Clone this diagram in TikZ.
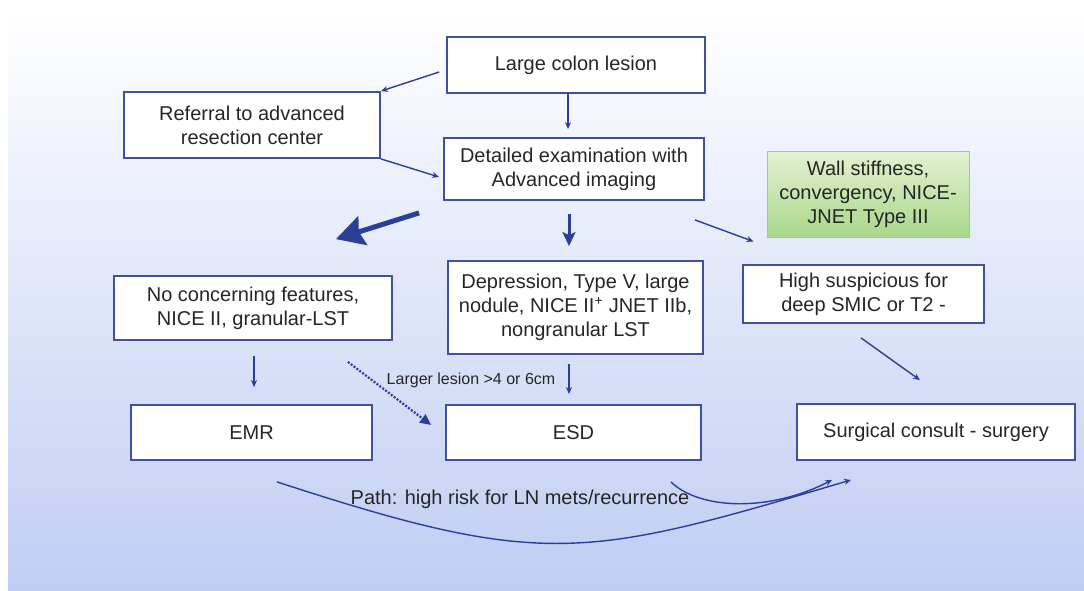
\documentclass[tikz,border=0pt]{standalone}
\usepackage{fontspec}
\setmainfont{Liberation Sans}
\usetikzlibrary{arrows.meta,calc}
\definecolor{boxline}{HTML}{3F519E}
\definecolor{arr}{HTML}{2C3F96}
\definecolor{txt}{HTML}{262626}
\definecolor{bgmid}{HTML}{D9E1F8}
\definecolor{bgblue}{HTML}{C0CDF3}
\definecolor{gtop}{HTML}{E4F2D2}
\definecolor{gbot}{HTML}{A9D78A}
\definecolor{gline}{HTML}{A3C888}
\begin{document}
\begin{tikzpicture}[x=1pt,y=-1pt,
  box/.style={draw=boxline, line width=1.8pt, fill=white, text=txt, align=center,
    inner sep=0pt, font=\fontsize{20}{24}\selectfont},
  thinarrow/.style={draw=arr, line width=1.4pt, -{Stealth[length=7pt,width=6pt]}},
  midarrow/.style={draw=arr, line width=3pt, -{Stealth[length=14pt,width=13pt,inset=3pt]}},
  bigarrow/.style={draw=arr, line width=5pt, -{Stealth[length=28pt,width=30pt,inset=4pt]}},
  dotarrow/.style={draw=arr, line width=2.2pt, dash pattern=on 2pt off 1.6pt, -{Triangle[length=11pt,width=10pt]}},
  lbl/.style={text=txt, inner sep=0pt}
]
\useasboundingbox (0,0) rectangle (1084,590);
\fill[white] (0,0) rectangle (1084,590);
\shade[top color=white, middle color=bgmid, bottom color=bgblue] (8,10) rectangle (1084,590);

% nodes
\node[box, minimum width=258pt, minimum height=56pt] (lcl) at (576,65) {Large colon lesion};
\node[box, minimum width=256pt, minimum height=66pt] (ref) at (252,125) {Referral to advanced\\resection center};
\node[box, minimum width=260pt, minimum height=62pt] (det) at (574,169) {Detailed examination with\\Advanced imaging};
\node[box, draw=gline, line width=1pt, top color=gtop, bottom color=gbot, minimum width=202pt, minimum height=86pt] (grn) at (868,194) {Wall stiffness,\\convergency, NICE-\\JNET Type III};
\node[box, minimum width=278pt, minimum height=64pt] (noc) at (253,308) {No concerning features,\\NICE II, granular-LST};
\node[box, minimum width=255pt, minimum height=93pt] (dep) at (575.5,307.5) {Depression, Type V, large\\nodule, NICE II\textsuperscript{+} JNET IIb,\\nongranular LST};
\node[box, minimum width=241pt, minimum height=58pt] (hs) at (863.5,294) {High suspicious for\\deep SMIC or T2 -};
\node[box, minimum width=241pt, minimum height=55pt] (emr) at (251.5,432.5) {EMR};
\node[box, minimum width=255pt, minimum height=55pt] (esd) at (573.5,432.5) {ESD};
\node[box, minimum width=278pt, minimum height=56pt] (surg) at (936,432) {Surgical consult - surgery};

\node[lbl, font=\fontsize{16}{19}\selectfont] (larger) at (471,380) {Larger lesion >4 or 6cm};
\node[lbl, font=\fontsize{20}{24}\selectfont] (pathlbl) at (520,499) {Path: high risk for LN mets/recurrence};

% connectors
\draw[thinarrow] ($(lcl.west)+(-7,7)$) -- (ref.north east);
\draw[thinarrow] ($(lcl.south)+(-8,0)$) -- ($(det.north)+(-6,-8)$);
\draw[thinarrow] (ref.south east) -- ($(det.west)+(-4,8)$);
\draw[bigarrow] ($(det.south west)+(-24,12)$) -- ($(noc.north east)+(-57,-36)$);
\draw[midarrow] ($(det.south)+(-5,13)$) -- ($(dep.north)+(-6.5,-14)$);
\draw[thinarrow] ($(det.south east)+(-10,19)$) -- ($(grn.south west)+(-13,4)$);
\draw[thinarrow] ($(hs.south)+(-2.5,14)$) -- ($(surg.north)+(-16,-23)$);
\draw[thinarrow] ($(noc.south)+(1,15)$) -- ($(emr.north)+(2.5,-17)$);
\draw[dotarrow] ($(noc.south east)+(-45,21)$) -- ($(esd.west)+(-14,-7.5)$);
\draw[thinarrow] ($(dep.south)+(-6.5,9)$) -- ($(esd.north)+(-4.5,-10)$);
\draw[thinarrow] ($(emr.south)+(25.5,21)$) .. controls (544,569) and (585,559) .. ($(surg.south west)+(55,19)$);
\draw[thinarrow] ($(esd.south east)+(-31,21)$) .. controls (700,510) and (770,512) .. ($(surg.south west)+(36,19)$);
\end{tikzpicture}
\end{document}
